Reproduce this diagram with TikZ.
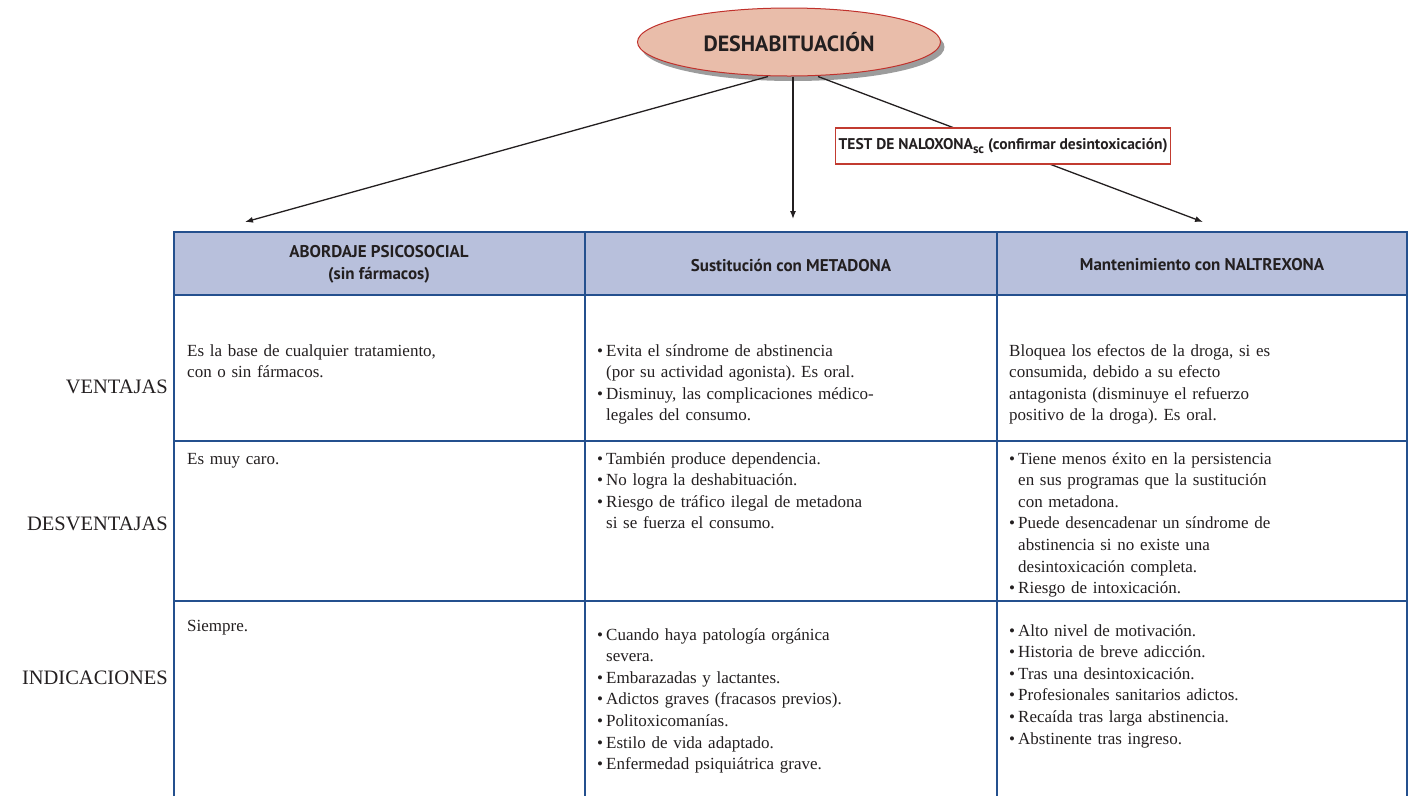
\documentclass[tikz,border=0pt]{standalone}
\usepackage{fontspec}
\setmainfont{Liberation Serif}
\newfontfamily\hdfont{PT Sans}
\usetikzlibrary{shapes.geometric,shadows,arrows.meta}
\frenchspacing

\definecolor{ellfill}{HTML}{E9BDAA}
\definecolor{ellline}{HTML}{C0312C}
\definecolor{shadowgray}{HTML}{9C9C9C}
\definecolor{headfill}{HTML}{B8C0DC}
\definecolor{gridblue}{HTML}{24508E}
\definecolor{boxline}{HTML}{C23B30}
\definecolor{ink}{HTML}{231F20}

% bullet with a fixed-width slot, and the matching indent for continued lines
\newcommand\bl{\makebox[9pt][l]{\textbullet}}
\newcommand\ind{\hspace*{9pt}}

\begin{document}
\begin{tikzpicture}[x=1pt,y=-1pt,
  arr/.style={draw=ink, line width=1.3pt, -{Latex[length=8pt,width=6pt]}},
  celltext/.style={anchor=north west, inner sep=0pt, text width=390pt, align=left,
    font=\fontsize{17}{21.6}\selectfont, text=ink},
  rowlabel/.style={anchor=east, inner sep=0pt, font=\fontsize{20.5}{22}\selectfont, text=ink},
  headtext/.style={align=center, inner sep=0pt,
    font=\hdfont\bfseries\fontsize{17}{22}\selectfont, text=ink},
  outerline/.style={draw=gridblue, line width=2.2pt},
  innerline/.style={draw=gridblue, line width=1.2pt}]

\useasboundingbox (0,0) rectangle (1410,796);

% ---- table: header band and grid ----
\fill[headfill] (174,232) rectangle (1407,295);
\draw[innerline] (174,441) -- (1407,441);
\draw[innerline] (174,601) -- (1407,601);
\draw[innerline] (585,232) -- (585,796);
\draw[innerline] (997,232) -- (997,796);
\draw[outerline] (174,295) -- (1407,295);
\draw[outerline, line join=miter] (174,796) -- (174,232) -- (1407,232) -- (1407,796);

% ---- header texts ----
\node[headtext] (h1) at (379,264.5) {ABORDAJE PSICOSOCIAL\\(sin fármacos)};
\node[headtext] (h2) at (791,265) {Sustitución con METADONA};
\node[headtext] (h3) at (1202,265) {Mantenimiento con NALTREXONA};

% ---- row labels ----
\node[rowlabel] (lv) at (168,387) {VENTAJAS};
\node[rowlabel] (ld) at (168,523.5) {DESVENTAJAS};
\node[rowlabel] (li) at (168,677.5) {INDICACIONES};

% ---- cells: ventajas ----
\node[celltext] (c11) at (187,340.8) {\strut Es la base de cualquier tratamiento,\\con o sin fármacos.};
\node[celltext] (c12) at (597,340.8) {\strut\bl Evita el síndrome de abstinencia\\
  \ind(por su actividad agonista). Es oral.\\
  \bl Disminuy, las complicaciones médico-\\
  \ind legales del consumo.};
\node[celltext] (c13) at (1009,340.8) {\strut Bloquea los efectos de la droga, si es\\
  consumida, debido a su efecto\\
  antagonista (disminuye el refuerzo\\
  positivo de la droga). Es oral.};

% ---- cells: desventajas ----
\node[celltext] (c21) at (187,448.8) {\strut Es muy caro.};
\node[celltext] (c22) at (597,448.8) {\strut\bl También produce dependencia.\\
  \bl No logra la deshabituación.\\
  \bl Riesgo de tráfico ilegal de metadona\\
  \ind si se fuerza el consumo.};
\node[celltext] (c23) at (1009,448.8) {\strut\bl Tiene menos éxito en la persistencia\\
  \ind en sus programas que la sustitución\\
  \ind con metadona.\\
  \bl Puede desencadenar un síndrome de\\
  \ind abstinencia si no existe una\\
  \ind desintoxicación completa.\\
  \bl Riesgo de intoxicación.};

% ---- cells: indicaciones ----
\node[celltext] (c31) at (187,615.8) {\strut Siempre.};
\node[celltext] (c32) at (597,624.8) {\strut\bl Cuando haya patología orgánica\\
  \ind severa.\\
  \bl Embarazadas y lactantes.\\
  \bl Adictos graves (fracasos previos).\\
  \bl Politoxicomanías.\\
  \bl Estilo de vida adaptado.\\
  \bl Enfermedad psiquiátrica grave.};
\node[celltext] (c33) at (1009,620.8) {\strut\bl Alto nivel de motivación.\\
  \bl Historia de breve adicción.\\
  \bl Tras una desintoxicación.\\
  \bl Profesionales sanitarios adictos.\\
  \bl Recaída tras larga abstinencia.\\
  \bl Abstinente tras ingreso.};

% ---- top of the scheme ----
\node[ellipse, minimum width=303pt, minimum height=68pt, inner sep=0pt,
  fill=ellfill, draw=ellline, line width=1pt,
  drop shadow={shadow xshift=4pt, shadow yshift=-5pt, fill=shadowgray, opacity=1},
  font=\hdfont\bfseries\fontsize{22}{24}\selectfont, text=ink] (root) at (789,42) {DESHABITUACIÓN};

\coordinate (tA) at (245,222);
\coordinate (tB) at (793,219);
\coordinate (tC) at (1203,222);

\draw[arr] ([xshift=-21pt]root.south) -- (tA);
\draw[arr] ([xshift=4pt]root.south) -- (tB);
\draw[arr] ([xshift=29pt]root.south) -- (tC);

\node[draw=boxline, fill=white, line width=1.2pt, anchor=west, minimum height=36pt,
  minimum width=335pt, inner xsep=3pt, inner ysep=0pt,
  font=\hdfont\bfseries\fontsize{15.5}{18}\selectfont, text=ink]
  (test) at (835,146) {TEST DE NALOXONA\raisebox{-4.5pt}{\fontsize{13}{13}\selectfont sc} (confirmar desintoxicación)};

\end{tikzpicture}
\end{document}
